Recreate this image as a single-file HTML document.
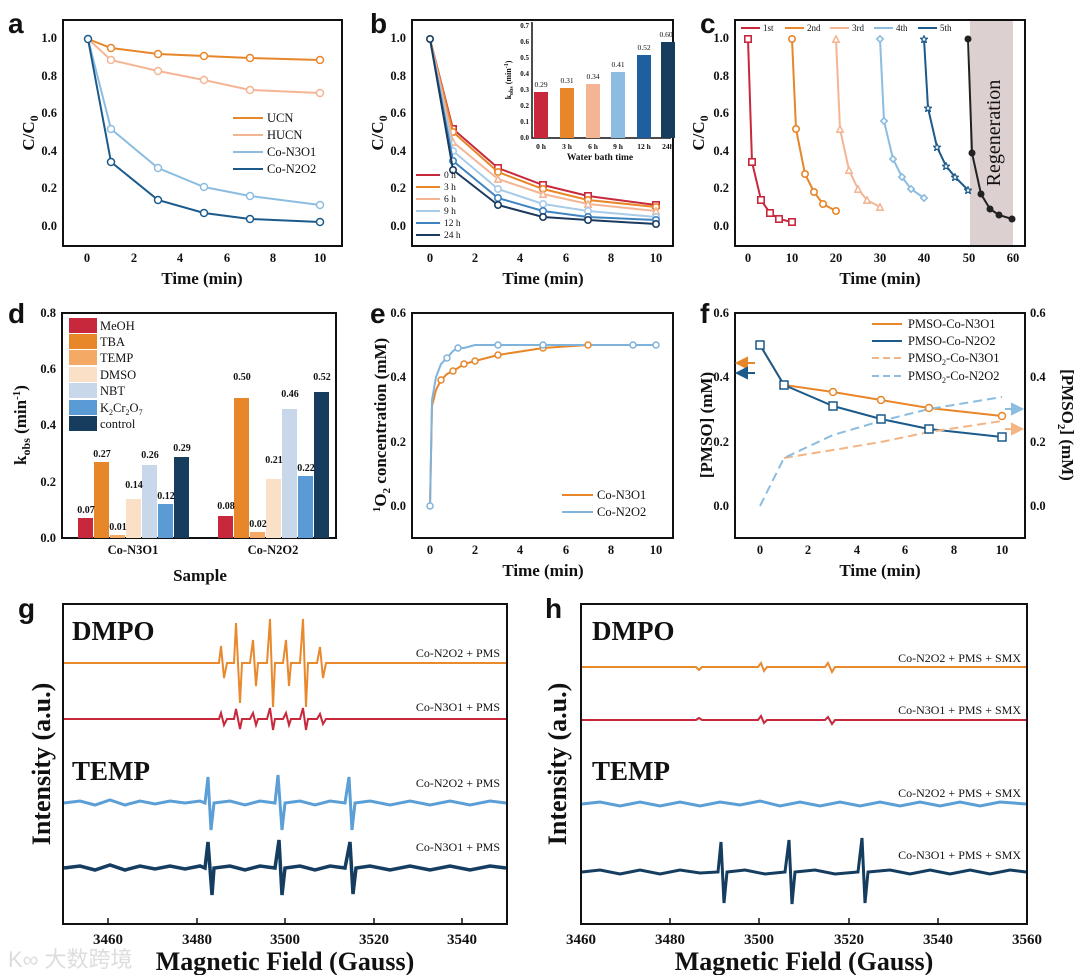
<!DOCTYPE html>
<html><head><meta charset="utf-8"><style>
html,body{margin:0;padding:0;background:#fff}
svg{display:block}
text{font-family:"Liberation Serif",serif;font-weight:bold;fill:#111}
.t{font-size:12.5px}
.ax{font-size:17px}
.pl{font-family:"Liberation Sans",sans-serif;font-size:28px;font-weight:bold}
.lg, .lg text, text.lg{font-weight:normal}
.lg{font-size:12.5px}
.box{fill:none;stroke:#111;stroke-width:2}
.ln{fill:none;stroke-width:2}
</style></head><body>
<svg width="1080" height="975" viewBox="0 0 1080 975" xmlns="http://www.w3.org/2000/svg">
<defs>
<marker id="m1" viewBox="0 0 10 10" refX="5" refY="5" markerWidth="4" markerHeight="4"><rect x="1" y="1" width="8" height="8" fill="#fff" stroke="#c8283c" stroke-width="2"/></marker>
<marker id="m2" viewBox="0 0 10 10" refX="5" refY="5" markerWidth="4" markerHeight="4"><circle cx="5" cy="5" r="4" fill="#fff" stroke="#e8862a" stroke-width="2"/></marker>
<marker id="m3" viewBox="0 0 10 10" refX="5" refY="5" markerWidth="4" markerHeight="4"><path d="M5,1 L9,9 L1,9 Z" fill="#fff" stroke="#f4b595" stroke-width="2"/></marker>
<marker id="m4" viewBox="0 0 10 10" refX="5" refY="5" markerWidth="4" markerHeight="4"><path d="M5,1 L9,5 L5,9 L1,5 Z" fill="#fff" stroke="#8cbde0" stroke-width="2"/></marker>
<marker id="m5" viewBox="0 0 10 10" refX="5" refY="5" markerWidth="4" markerHeight="4"><path d="M5,1 L6.5,4 L9.5,4 L7,6 L8,9.5 L5,7.5 L2,9.5 L3,6 L0.5,4 L3.5,4 Z" fill="#fff" stroke="#1b5a8a" stroke-width="1.5"/></marker>
<marker id="m6" viewBox="0 0 10 10" refX="5" refY="5" markerWidth="4" markerHeight="4"><circle cx="5" cy="5" r="4" fill="#fff" stroke="#3f84c0" stroke-width="2"/></marker>
<marker id="m7" viewBox="0 0 10 10" refX="5" refY="5" markerWidth="4" markerHeight="4"><circle cx="5" cy="5" r="4" fill="#fff" stroke="#1b3a5e" stroke-width="2"/></marker>
<marker id="m8" viewBox="0 0 10 10" refX="5" refY="5" markerWidth="4" markerHeight="4"><circle cx="5" cy="5" r="4" fill="#fff" stroke="#a8cbe8" stroke-width="2"/></marker>
</defs>
<!-- ============ a ============ -->
<text class="pl" x="8" y="33">a</text>
<rect class="box" x="63" y="20" width="279" height="226"/>
<g class="t" text-anchor="end">
<text x="57" y="42">1.0</text><text x="57" y="80">0.8</text><text x="57" y="117">0.6</text><text x="57" y="155">0.4</text><text x="57" y="192">0.2</text><text x="57" y="230">0.0</text></g>
<g class="t" text-anchor="middle">
<text x="87" y="262">0</text><text x="134" y="262">2</text><text x="180" y="262">4</text><text x="227" y="262">6</text><text x="273" y="262">8</text><text x="320" y="262">10</text></g>
<text class="ax" x="202" y="284" text-anchor="middle">Time (min)</text>
<text class="ax" transform="translate(34,133) rotate(-90)" text-anchor="middle">C/C<tspan font-size="12" dy="4">0</tspan></text>
<polyline class="ln" stroke="#e8862a" points="88,39 111,48 158,54 204,56 250,58 320,60"/>
<polyline class="ln" stroke="#f4b595" points="88,39 111,60 158,71 204,80 250,90 320,93"/>
<polyline class="ln" stroke="#8cbde0" points="88,39 111,129 158,168 204,187 250,196 320,205"/>
<polyline class="ln" stroke="#1b5a8a" points="88,39 111,162 158,200 204,213 250,219 320,222"/>
<g fill="#fff" stroke-width="1.5">
<g stroke="#e8862a"><circle cx="111" cy="48" r="3.5"/><circle cx="158" cy="54" r="3.5"/><circle cx="204" cy="56" r="3.5"/><circle cx="250" cy="58" r="3.5"/><circle cx="320" cy="60" r="3.5"/></g>
<g stroke="#f4b595"><circle cx="111" cy="60" r="3.5"/><circle cx="158" cy="71" r="3.5"/><circle cx="204" cy="80" r="3.5"/><circle cx="250" cy="90" r="3.5"/><circle cx="320" cy="93" r="3.5"/></g>
<g stroke="#8cbde0"><circle cx="111" cy="129" r="3.5"/><circle cx="158" cy="168" r="3.5"/><circle cx="204" cy="187" r="3.5"/><circle cx="250" cy="196" r="3.5"/><circle cx="320" cy="205" r="3.5"/></g>
<g stroke="#1b5a8a"><circle cx="88" cy="39" r="3.5"/><circle cx="111" cy="162" r="3.5"/><circle cx="158" cy="200" r="3.5"/><circle cx="204" cy="213" r="3.5"/><circle cx="250" cy="219" r="3.5"/><circle cx="320" cy="222" r="3.5"/></g></g>
<g class="lg">
<line x1="233" y1="118" x2="263" y2="118" stroke="#e8862a" stroke-width="2"/><text x="267" y="122">UCN</text>
<line x1="233" y1="135" x2="263" y2="135" stroke="#f4b595" stroke-width="2"/><text x="267" y="139">HUCN</text>
<line x1="233" y1="152" x2="263" y2="152" stroke="#8cbde0" stroke-width="2"/><text x="267" y="156">Co-N3O1</text>
<line x1="233" y1="169" x2="263" y2="169" stroke="#1b5a8a" stroke-width="2"/><text x="267" y="173">Co-N2O2</text></g>

<!-- ============ b ============ -->
<text class="pl" x="370" y="33">b</text>
<rect class="box" x="412" y="20" width="261" height="226"/>
<g class="t" text-anchor="end">
<text x="406" y="42">1.0</text><text x="406" y="80">0.8</text><text x="406" y="117">0.6</text><text x="406" y="155">0.4</text><text x="406" y="192">0.2</text><text x="406" y="230">0.0</text></g>
<g class="t" text-anchor="middle">
<text x="430" y="262">0</text><text x="475" y="262">2</text><text x="520" y="262">4</text><text x="566" y="262">6</text><text x="611" y="262">8</text><text x="656" y="262">10</text></g>
<text class="ax" x="543" y="284" text-anchor="middle">Time (min)</text>
<text class="ax" transform="translate(383,133) rotate(-90)" text-anchor="middle">C/C<tspan font-size="12" dy="4">0</tspan></text>
<polyline class="ln" stroke="#c8283c" marker-mid="url(#m1)" marker-end="url(#m1)" points="430,39 453,129 498,168 543,185 588,196 656,205"/>
<polyline class="ln" stroke="#e8862a" marker-mid="url(#m2)" marker-end="url(#m2)" points="430,39 453,132 498,172 543,189 588,200 656,207"/>
<polyline class="ln" stroke="#f4b595" marker-mid="url(#m3)" marker-end="url(#m3)" points="430,39 453,142 498,179 543,194 588,204 656,211"/>
<polyline class="ln" stroke="#a8cbe8" marker-mid="url(#m8)" marker-end="url(#m8)" points="430,39 453,151 498,189 543,204 588,211 656,217"/>
<polyline class="ln" stroke="#3f84c0" marker-mid="url(#m6)" marker-end="url(#m6)" points="430,39 453,161 498,198 543,211 588,217 656,220"/>
<polyline class="ln" stroke="#1b3a5e" marker-start="url(#m7)" marker-mid="url(#m7)" marker-end="url(#m7)" points="430,39 453,170 498,205 543,217 588,220 656,224"/>
<g class="lg">
<line x1="416" y1="175" x2="440" y2="175" stroke="#c8283c" stroke-width="2"/><text x="444" y="178" font-size="9.5">0 h</text>
<line x1="416" y1="187" x2="440" y2="187" stroke="#e8862a" stroke-width="2"/><text x="444" y="190" font-size="9.5">3 h</text>
<line x1="416" y1="199" x2="440" y2="199" stroke="#f4b595" stroke-width="2"/><text x="444" y="202" font-size="9.5">6 h</text>
<line x1="416" y1="211" x2="440" y2="211" stroke="#a8cbe8" stroke-width="2"/><text x="444" y="214" font-size="9.5">9 h</text>
<line x1="416" y1="223" x2="440" y2="223" stroke="#3f84c0" stroke-width="2"/><text x="444" y="226" font-size="9.5">12 h</text>
<line x1="416" y1="235" x2="440" y2="235" stroke="#1b3a5e" stroke-width="2"/><text x="444" y="238" font-size="9.5">24 h</text></g>
<!-- inset -->
<polyline points="532,22 532,138 671,138" fill="none" stroke="#111" stroke-width="1.5"/>
<g font-size="7" text-anchor="end"><text x="529" y="140">0.0</text><text x="529" y="124">0.1</text><text x="529" y="108">0.2</text><text x="529" y="92">0.3</text><text x="529" y="76">0.4</text><text x="529" y="60">0.5</text><text x="529" y="44">0.6</text><text x="529" y="28">0.7</text></g>
<text font-size="8" transform="translate(511,80) rotate(-90)" text-anchor="middle">k<tspan font-size="6" dy="2">obs</tspan><tspan dy="-2"> (min</tspan><tspan font-size="6" dy="-3">-1</tspan><tspan dy="3">)</tspan></text>
<rect x="534" y="92" width="14" height="46" fill="#c8283c"/><rect x="560" y="88" width="14" height="50" fill="#e8862a"/><rect x="586" y="84" width="14" height="54" fill="#f4b595"/><rect x="611" y="72" width="14" height="66" fill="#8cbde0"/><rect x="637" y="55" width="14" height="83" fill="#1f5fa0"/><rect x="661" y="42" width="14" height="96" fill="#173d5e"/>
<g class="lg" text-anchor="middle"><text x="541" y="87" font-size="7.5">0.29</text><text x="567" y="83" font-size="7.5">0.31</text><text x="593" y="79" font-size="7.5">0.34</text><text x="618" y="67" font-size="7.5">0.41</text><text x="644" y="50" font-size="7.5">0.52</text><text x="666" y="37" font-size="7.5">0.60</text></g>
<g font-size="7.5" text-anchor="middle"><text x="541" y="149">0 h</text><text x="567" y="149">3 h</text><text x="593" y="149">6 h</text><text x="618" y="149">9 h</text><text x="644" y="149">12 h</text><text x="668" y="149">24h</text></g>
<text font-size="9.5" x="600" y="160" text-anchor="middle">Water bath time</text>

<!-- ============ c ============ -->
<text class="pl" x="700" y="33">c</text>
<rect x="970" y="20" width="43" height="226" fill="#ddd0d0"/>
<rect class="box" x="735" y="20" width="290" height="226"/>
<text class="lg" transform="translate(1000,133) rotate(-90)" text-anchor="middle" style="font-size:20px">Regeneration</text>
<g class="t" text-anchor="end">
<text x="729" y="42">1.0</text><text x="729" y="80">0.8</text><text x="729" y="117">0.6</text><text x="729" y="155">0.4</text><text x="729" y="192">0.2</text><text x="729" y="230">0.0</text></g>
<g class="t" text-anchor="middle">
<text x="748" y="262">0</text><text x="792" y="262">10</text><text x="836" y="262">20</text><text x="880" y="262">30</text><text x="924" y="262">40</text><text x="969" y="262">50</text><text x="1013" y="262">60</text></g>
<text class="ax" x="880" y="284" text-anchor="middle">Time (min)</text>
<text class="ax" transform="translate(704,133) rotate(-90)" text-anchor="middle">C/C<tspan font-size="12" dy="4">0</tspan></text>
<polyline class="ln" stroke="#c8283c" marker-start="url(#m1)" marker-mid="url(#m1)" marker-end="url(#m1)" points="748,39 752,162 761,200 770,213 779,219 792,222"/>
<polyline class="ln" stroke="#e8862a" marker-start="url(#m2)" marker-mid="url(#m2)" marker-end="url(#m2)" points="792,39 796,129 805,174 814,192 823,204 836,211"/>
<polyline class="ln" stroke="#f4b595" marker-start="url(#m3)" marker-mid="url(#m3)" marker-end="url(#m3)" points="836,39 840,129 849,170 858,189 867,200 880,207"/>
<polyline class="ln" stroke="#8cbde0" marker-start="url(#m4)" marker-mid="url(#m4)" marker-end="url(#m4)" points="880,39 884,121 893,159 902,177 911,189 924,198"/>
<polyline class="ln" stroke="#1b5a8a" marker-start="url(#m5)" marker-mid="url(#m5)" marker-end="url(#m5)" points="924,39 928,108 937,147 946,166 955,177 968,190"/>
<polyline class="ln" stroke="#222" points="968,39 972,153 981,194 990,209 999,215 1012,219"/>
<g fill="#222"><circle cx="968" cy="39" r="3.5"/><circle cx="972" cy="153" r="3.5"/><circle cx="981" cy="194" r="3.5"/><circle cx="990" cy="209" r="3.5"/><circle cx="999" cy="215" r="3.5"/><circle cx="1012" cy="219" r="3.5"/></g>
<g class="lg">
<line x1="741" y1="28" x2="760" y2="28" stroke="#c8283c" stroke-width="2"/><text x="763" y="31" font-size="9">1st</text>
<line x1="785" y1="28" x2="804" y2="28" stroke="#e8862a" stroke-width="2"/><text x="807" y="31" font-size="9">2nd</text>
<line x1="830" y1="28" x2="849" y2="28" stroke="#f4b595" stroke-width="2"/><text x="852" y="31" font-size="9">3rd</text>
<line x1="874" y1="28" x2="893" y2="28" stroke="#8cbde0" stroke-width="2"/><text x="896" y="31" font-size="9">4th</text>
<line x1="918" y1="28" x2="937" y2="28" stroke="#1b5a8a" stroke-width="2"/><text x="940" y="31" font-size="9">5th</text></g>

<!-- ============ d ============ -->
<text class="pl" x="8" y="323">d</text>
<rect class="box" x="62" y="313" width="274" height="225"/>
<g class="t" text-anchor="end"><text x="56" y="317">0.8</text><text x="56" y="373">0.6</text><text x="56" y="429">0.4</text><text x="56" y="486">0.2</text><text x="56" y="542">0.0</text></g>
<text class="ax" transform="translate(26,425) rotate(-90)" text-anchor="middle">k<tspan font-size="12" dy="4">obs</tspan><tspan dy="-4"> (min</tspan><tspan font-size="11" dy="-6">-1</tspan><tspan dy="6">)</tspan></text>
<g class="t" text-anchor="middle"><text x="133" y="554">Co-N3O1</text><text x="273" y="554">Co-N2O2</text></g>
<text class="ax" x="200" y="581" text-anchor="middle">Sample</text>
<rect x="78" y="518" width="15" height="20" fill="#c8283c"/><rect x="94" y="462" width="15" height="76" fill="#e8862a"/><rect x="110" y="535" width="15" height="3" fill="#f4aa65"/><rect x="126" y="499" width="15" height="39" fill="#fbe0c8"/><rect x="142" y="465" width="15" height="73" fill="#c8d8ea"/><rect x="158" y="504" width="15" height="34" fill="#5b9bd5"/><rect x="174" y="457" width="15" height="81" fill="#173d5e"/>
<rect x="218" y="516" width="15" height="22" fill="#c8283c"/><rect x="234" y="398" width="15" height="140" fill="#e8862a"/><rect x="250" y="532" width="15" height="6" fill="#f4aa65"/><rect x="266" y="479" width="15" height="59" fill="#fbe0c8"/><rect x="282" y="409" width="15" height="129" fill="#c8d8ea"/><rect x="298" y="476" width="15" height="62" fill="#5b9bd5"/><rect x="314" y="392" width="15" height="146" fill="#173d5e"/>
<g font-size="10" text-anchor="middle"><text x="86" y="513">0.07</text><text x="102" y="457">0.27</text><text x="118" y="530">0.01</text><text x="134" y="488">0.14</text><text x="150" y="458">0.26</text><text x="166" y="499">0.12</text><text x="182" y="451">0.29</text>
<text x="226" y="509">0.08</text><text x="242" y="380">0.50</text><text x="258" y="527">0.02</text><text x="274" y="463">0.21</text><text x="290" y="397">0.46</text><text x="306" y="471">0.22</text><text x="322" y="380">0.52</text></g>
<g class="lg"><rect x="69" y="318" width="28" height="15" fill="#c8283c"/><text x="100" y="330">MeOH</text>
<rect x="69" y="334" width="28" height="15" fill="#e8862a"/><text x="100" y="346">TBA</text>
<rect x="69" y="350" width="28" height="15" fill="#f4aa65"/><text x="100" y="362">TEMP</text>
<rect x="69" y="367" width="28" height="15" fill="#fbe0c8"/><text x="100" y="379">DMSO</text>
<rect x="69" y="383" width="28" height="15" fill="#c8d8ea"/><text x="100" y="395">NBT</text>
<rect x="69" y="400" width="28" height="15" fill="#5b9bd5"/><text x="100" y="412">K<tspan font-size="8" dy="3">2</tspan><tspan dy="-3">Cr</tspan><tspan font-size="8" dy="3">2</tspan><tspan dy="-3">O</tspan><tspan font-size="8" dy="3">7</tspan></text>
<rect x="69" y="416" width="28" height="15" fill="#173d5e"/><text x="100" y="428">control</text></g>

<!-- ============ e ============ -->
<text class="pl" x="370" y="323">e</text>
<rect class="box" x="412" y="313" width="261" height="225"/>
<g class="t" text-anchor="end"><text x="406" y="317">0.6</text><text x="406" y="381">0.4</text><text x="406" y="446">0.2</text><text x="406" y="510">0.0</text></g>
<g class="t" text-anchor="middle"><text x="430" y="554">0</text><text x="475" y="554">2</text><text x="520" y="554">4</text><text x="566" y="554">6</text><text x="611" y="554">8</text><text x="656" y="554">10</text></g>
<text class="ax" x="543" y="576" text-anchor="middle">Time (min)</text>
<text class="ax" transform="translate(386,425) rotate(-90)" text-anchor="middle"><tspan font-size="11" dy="-6">1</tspan><tspan dy="6">O</tspan><tspan font-size="11" dy="4">2</tspan><tspan dy="-4"> concentration (mM)</tspan></text>
<polyline class="ln" stroke="#e8862a" points="430,506 432,406 436,390 441,380 447,374 453,371 458,368 464,364 475,361 498,355 543,348 588,345 656,345"/>
<polyline class="ln" stroke="#7fb3dc" points="430,506 432,400 436,377 441,364 447,358 453,351 458,348 464,348 475,345 498,345 543,345 588,345 633,345 656,345"/>
<g fill="#fff" stroke-width="1.5"><g stroke="#e8862a"><circle cx="441" cy="380" r="3"/><circle cx="453" cy="371" r="3"/><circle cx="464" cy="364" r="3"/><circle cx="475" cy="361" r="3"/><circle cx="498" cy="355" r="3"/><circle cx="543" cy="348" r="3"/><circle cx="588" cy="345" r="3"/></g>
<g stroke="#7fb3dc"><circle cx="430" cy="506" r="3"/><circle cx="447" cy="358" r="3"/><circle cx="458" cy="348" r="3"/><circle cx="498" cy="345" r="3"/><circle cx="543" cy="345" r="3"/><circle cx="633" cy="345" r="3"/><circle cx="656" cy="345" r="3"/></g></g>
<g class="lg"><line x1="562" y1="495" x2="593" y2="495" stroke="#e8862a" stroke-width="2"/><text x="597" y="499">Co-N3O1</text>
<line x1="562" y1="512" x2="593" y2="512" stroke="#7fb3dc" stroke-width="2"/><text x="597" y="516">Co-N2O2</text></g>

<!-- ============ f ============ -->
<text class="pl" x="700" y="323">f</text>
<rect class="box" x="735" y="313" width="290" height="225"/>
<g class="t" text-anchor="end"><text x="729" y="317">0.6</text><text x="729" y="381">0.4</text><text x="729" y="446">0.2</text><text x="729" y="510">0.0</text></g>
<g class="t"><text x="1030" y="317">0.6</text><text x="1030" y="381">0.4</text><text x="1030" y="446">0.2</text><text x="1030" y="510">0.0</text></g>
<g class="t" text-anchor="middle"><text x="760" y="554">0</text><text x="808" y="554">2</text><text x="857" y="554">4</text><text x="905" y="554">6</text><text x="954" y="554">8</text><text x="1002" y="554">10</text></g>
<text class="ax" x="880" y="576" text-anchor="middle">Time (min)</text>
<text class="ax" transform="translate(712,425) rotate(-90)" text-anchor="middle">[PMSO] (mM)</text>
<text class="ax" transform="translate(1062,425) rotate(90)" text-anchor="middle">[PMSO<tspan font-size="11" dy="4">2</tspan><tspan dy="-4">] (mM)</tspan></text>
<polyline class="ln" stroke="#e8862a" points="760,345 784,385 833,392 881,400 929,408 1002,416"/>
<polyline class="ln" stroke="#1b5a8a" points="760,345 784,385 833,406 881,419 929,429 1002,437"/>
<polyline class="ln" stroke="#f4b585" stroke-dasharray="9,5" points="784,458 833,450 881,442 929,432 1002,421"/>
<polyline class="ln" stroke="#8cbde0" stroke-dasharray="9,5" points="760,506 784,458 833,435 881,421 929,409 1002,397"/>
<g fill="#fff" stroke-width="1.5"><g stroke="#e8862a"><circle cx="833" cy="392" r="3.5"/><circle cx="881" cy="400" r="3.5"/><circle cx="929" cy="408" r="3.5"/><circle cx="1002" cy="416" r="3.5"/></g>
<g stroke="#1b5a8a"><rect x="756" y="341" width="8" height="8"/><rect x="780" y="381" width="8" height="8"/><rect x="829" y="402" width="8" height="8"/><rect x="877" y="415" width="8" height="8"/><rect x="925" y="425" width="8" height="8"/><rect x="998" y="433" width="8" height="8"/></g></g>
<path d="M755,363 L745,363 M737,363 L747,358 L747,368 Z" stroke="#e8862a" fill="#e8862a" stroke-width="2"/>
<path d="M755,373 L745,373 M737,373 L747,368 L747,378 Z" stroke="#1b5a8a" fill="#1b5a8a" stroke-width="2"/>
<path d="M1005,409 L1013,409 M1022,409 L1012,404 L1012,414 Z" stroke="#8cbde0" fill="#8cbde0" stroke-width="2"/>
<path d="M1005,429 L1013,429 M1022,429 L1012,424 L1012,434 Z" stroke="#f4b585" fill="#f4b585" stroke-width="2"/>
<g class="lg"><line x1="872" y1="324" x2="902" y2="324" stroke="#e8862a" stroke-width="2"/><text x="908" y="328">PMSO-Co-N3O1</text>
<line x1="872" y1="341" x2="902" y2="341" stroke="#1b5a8a" stroke-width="2"/><text x="908" y="345">PMSO-Co-N2O2</text>
<line x1="872" y1="358" x2="902" y2="358" stroke="#f4b585" stroke-width="2" stroke-dasharray="7,4"/><text x="908" y="362">PMSO<tspan font-size="8" dy="3">2</tspan><tspan dy="-3">-Co-N3O1</tspan></text>
<line x1="872" y1="376" x2="902" y2="376" stroke="#8cbde0" stroke-width="2" stroke-dasharray="7,4"/><text x="908" y="380">PMSO<tspan font-size="8" dy="3">2</tspan><tspan dy="-3">-Co-N2O2</tspan></text></g>

<!-- ============ g ============ -->
<text class="pl" x="18" y="618">g</text>
<rect class="box" x="63" y="604" width="444" height="320"/>
<g class="t" text-anchor="middle" style="font-size:15px"><text x="108" y="944">3460</text><text x="197" y="944">3480</text><text x="285" y="944">3500</text><text x="374" y="944">3520</text><text x="462" y="944">3540</text></g>
<text x="285" y="970" text-anchor="middle" style="font-size:26px">Magnetic Field (Gauss)</text>
<text transform="translate(50,764) rotate(-90)" text-anchor="middle" style="font-size:26px">Intensity (a.u.)</text>
<text x="72" y="640" style="font-size:27px">DMPO</text>
<text x="72" y="780" style="font-size:27px">TEMP</text>
<g class="lg" text-anchor="end" style="font-size:12px"><text x="500" y="657" font-size="12" fill="#333">Co-N2O2 + PMS</text><text x="500" y="711" font-size="12">Co-N3O1 + PMS</text><text x="500" y="787" font-size="12">Co-N2O2 + PMS</text><text x="500" y="851" font-size="12">Co-N3O1 + PMS</text></g>
<polyline class="ln" stroke="#e8892e" points="64,663 216,663 219,663 221,646 224,678 227,663 234,663 236,623 240,703 242,663 250,663 253,640 256,686 258,663 267,663 270,619 273,707 275,663 283,663 286,640 289,686 291,663 300,663 303,619 306,707 308,663 317,663 320,647 323,678 326,663 506,663"/>
<polyline class="ln" stroke="#c8283c" points="64,719 216,719 219,719 221,713 224,725 227,719 234,719 236,709 240,729 242,719 250,719 253,713 256,725 258,719 267,719 270,708 273,730 275,719 283,719 286,713 289,725 291,719 300,719 303,708 306,730 308,719 317,719 320,714 323,724 326,719 506,719"/>
<polyline fill="none" stroke="#5b9fd6" stroke-width="3" points="64,803 80,801 95,805 110,800 125,805 140,801 155,804 170,801 185,803 200,801 205,803 208,777 211,830 214,803 230,801 245,805 260,801 275,803 278,775 282,830 285,803 300,801 315,805 330,801 345,803 349,777 352,830 355,803 370,801 390,805 410,801 430,805 450,801 470,805 490,801 506,803"/>
<polyline fill="none" stroke="#143d60" stroke-width="3.5" points="64,868 80,866 95,870 110,865 125,870 140,866 155,869 170,866 185,869 200,866 205,868 208,842 212,895 214,868 230,866 245,870 260,866 275,868 279,840 282,895 285,868 300,866 315,870 330,866 345,868 350,842 353,894 356,868 370,866 390,870 410,866 430,870 450,866 470,870 490,866 506,868"/>
<g stroke="#111" stroke-width="1.5"><line x1="108" y1="924" x2="108" y2="918"/><line x1="197" y1="924" x2="197" y2="918"/><line x1="285" y1="924" x2="285" y2="918"/><line x1="374" y1="924" x2="374" y2="918"/><line x1="462" y1="924" x2="462" y2="918"/>
<line x1="670" y1="924" x2="670" y2="918"/><line x1="759" y1="924" x2="759" y2="918"/><line x1="849" y1="924" x2="849" y2="918"/><line x1="938" y1="924" x2="938" y2="918"/></g>
<text x="8" y="967" style="font-size:22px;fill:#ddd;font-family:'Liberation Sans','Noto Sans CJK SC',sans-serif;font-weight:normal">K∞ 大数跨境</text>

<!-- ============ h ============ -->
<text class="pl" x="545" y="618">h</text>
<rect class="box" x="581" y="604" width="446" height="320"/>
<g class="t" text-anchor="middle" style="font-size:15px"><text x="581" y="944">3460</text><text x="670" y="944">3480</text><text x="759" y="944">3500</text><text x="849" y="944">3520</text><text x="938" y="944">3540</text><text x="1027" y="944">3560</text></g>
<text x="804" y="970" text-anchor="middle" style="font-size:26px">Magnetic Field (Gauss)</text>
<text transform="translate(566,764) rotate(-90)" text-anchor="middle" style="font-size:26px">Intensity (a.u.)</text>
<text x="592" y="640" style="font-size:27px">DMPO</text>
<text x="592" y="780" style="font-size:27px">TEMP</text>
<g class="lg" text-anchor="end"><text x="1021" y="662" font-size="12">Co-N2O2 + PMS + SMX</text><text x="1021" y="714" font-size="12">Co-N3O1 + PMS + SMX</text><text x="1021" y="797" font-size="12">Co-N2O2 + PMS + SMX</text><text x="1021" y="859" font-size="12">Co-N3O1 + PMS + SMX</text></g>
<polyline class="ln" stroke="#e8892e" points="582,667 696,667 699,670 702,667 758,667 761,663 764,671 767,667 825,667 828,663 832,672 835,667 1026,667"/>
<polyline class="ln" stroke="#c8283c" points="582,720 696,720 699,718 702,720 758,720 761,716 764,723 767,720 825,720 828,717 832,724 835,720 1026,720"/>
<polyline fill="none" stroke="#5b9fd6" stroke-width="3" points="582,804 600,802 620,806 640,802 660,806 680,802 700,806 720,802 740,805 760,801 780,806 800,802 820,806 840,802 860,806 880,802 900,806 920,802 940,806 960,802 980,806 1000,802 1026,804"/>
<polyline fill="none" stroke="#143d60" stroke-width="3" points="582,872 600,870 620,874 640,870 660,874 680,870 700,873 718,872 721,842 724,903 727,872 745,870 765,874 785,872 789,840 792,904 795,872 815,870 835,874 858,872 862,838 865,903 868,872 890,870 910,874 930,870 950,874 970,870 990,874 1010,870 1026,872"/>
</svg>
</body></html>
